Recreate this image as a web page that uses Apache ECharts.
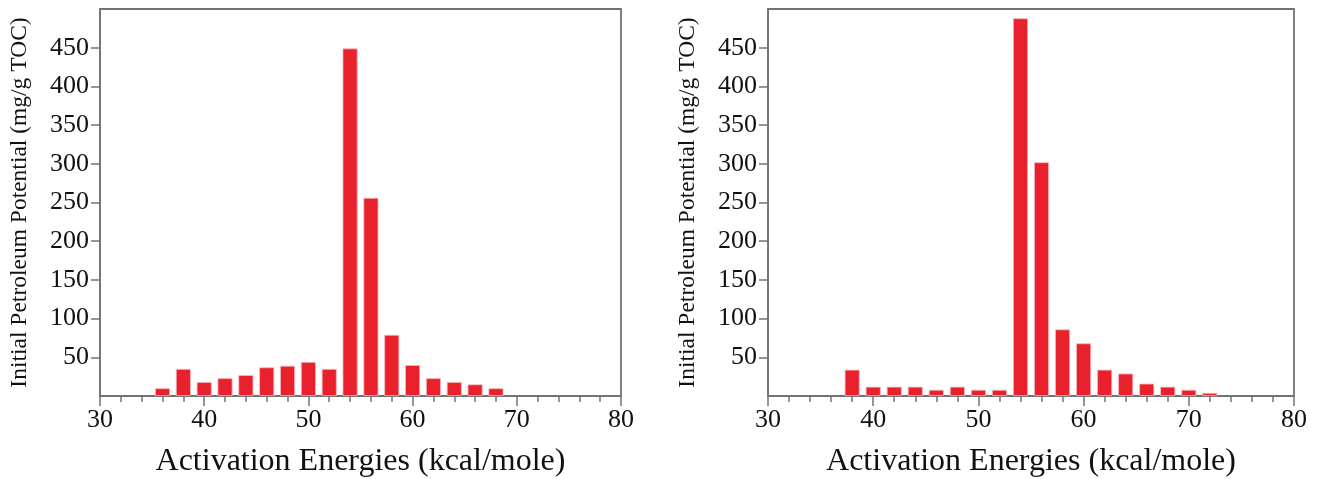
<!DOCTYPE html>
<html>
<head>
<meta charset="utf-8">
<script src="https://cdn.jsdelivr.net/npm/echarts@6/dist/echarts.min.js"></script>
<style>html,body{margin:0;padding:0;background:#fff;}#c{width:1324px;height:479px;}</style>
</head>
<body>
<div id="c"></div>
<script>
// Left panel
const energiesA = [36, 38, 40, 42, 44, 46, 48, 50, 52, 54, 56, 58, 60, 62, 64, 66, 68];
const valuesA   = [10, 35, 18, 23, 27, 37, 39, 44, 35, 449, 256, 79, 40, 23, 18, 15, 10];
// Right panel
const energiesB = [38, 40, 42, 44, 46, 48, 50, 52, 54, 56, 58, 60, 62, 64, 66, 68, 70, 72];
const valuesB   = [34, 12, 12, 12, 8, 12, 8, 8, 488, 302, 86, 68, 34, 29, 16, 12, 8, 4];
const yTicks = [50, 100, 150, 200, 250, 300, 350, 400, 450];
const xTicks = [30, 40, 50, 60, 70, 80];
const xName = 'Activation Energies (kcal/mole)';
const yName = 'Initial Petroleum Potential (mg/g TOC)';

const FONT = 'Liberation Serif';
const GRAY = '#737373';
const RED = '#e8212d';

function xAxis(gi) {
  return {
    type: 'value', gridIndex: gi, min: 30, max: 80, interval: 10,
    name: xName, nameLocation: 'middle', nameGap: 50,
    nameTextStyle: { fontFamily: FONT, fontSize: 32, color: '#111' },
    axisLine: { show: true, lineStyle: { color: GRAY, width: 1.5 } },
    axisTick: { show: true, length: 10, lineStyle: { color: GRAY, width: 1.5 } },
    minorTick: { show: true, splitNumber: 5, length: 6, lineStyle: { color: GRAY, width: 1.5 } },
    axisLabel: { customValues: xTicks, fontFamily: FONT, fontSize: 26, color: '#111', margin: 11 },
    splitLine: { show: false }
  };
}
function yAxis(gi) {
  return {
    type: 'value', gridIndex: gi, min: 0, max: 500,
    name: yName, nameLocation: 'middle', nameGap: 68,
    nameTextStyle: { fontFamily: FONT, fontSize: 23.5, color: '#111' },
    axisLine: { show: true, lineStyle: { color: GRAY, width: 1.5 } },
    axisTick: { show: true, customValues: yTicks, length: 9, lineStyle: { color: GRAY, width: 1.5 } },
    axisLabel: { customValues: yTicks, fontFamily: FONT, fontSize: 26, color: '#111', margin: 11 },
    splitLine: { show: false }
  };
}
function series(gi, xs, ys) {
  return {
    type: 'bar', xAxisIndex: gi, yAxisIndex: gi,
    data: xs.map((x, i) => [x, ys[i]]),
    barWidth: 15,
    itemStyle: { color: RED, borderColor: '#f6b9bc', borderWidth: 0.8 },
    silent: true
  };
}

const chart = echarts.init(document.getElementById('c'), null, { renderer: 'canvas' });
chart.setOption({
  animation: false,
  backgroundColor: '#fff',
  grid: [
    { left: 100, right: 703, top: 9, bottom: 83, show: true, borderColor: GRAY, borderWidth: 1.8, outerBoundsMode: 'none', containLabel: false },
    { left: 768, right: 30, top: 9, bottom: 83, show: true, borderColor: GRAY, borderWidth: 1.8, outerBoundsMode: 'none', containLabel: false }
  ],
  xAxis: [xAxis(0), xAxis(1)],
  yAxis: [yAxis(0), yAxis(1)],
  series: [series(0, energiesA, valuesA), series(1, energiesB, valuesB)]
});
</script>
</body>
</html>
